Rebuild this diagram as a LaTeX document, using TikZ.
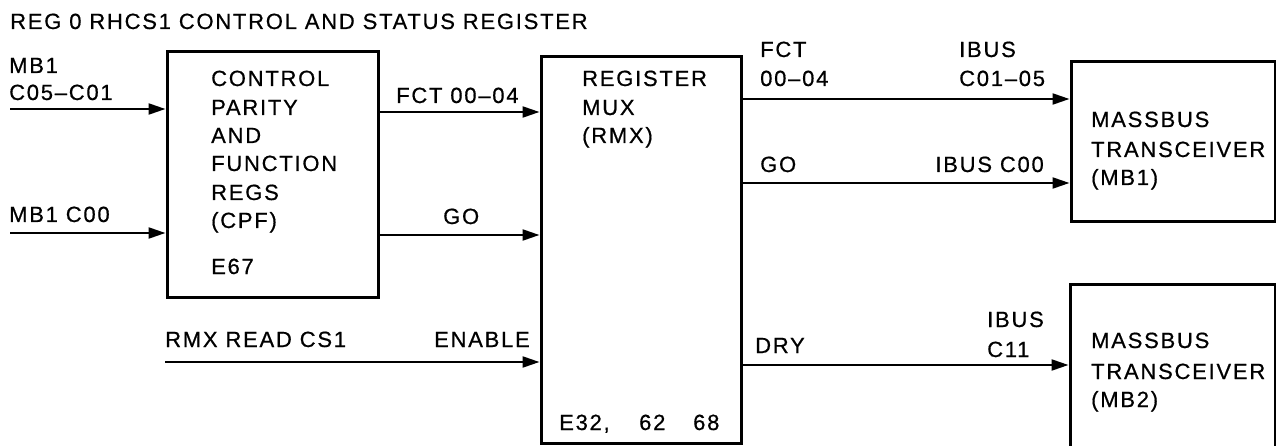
\documentclass[tikz,border=0pt]{standalone}
\usepackage{fontspec}
\setmainfont[LetterSpace=8,FakeBold=0.6]{Liberation Sans}
\usetikzlibrary{arrows.meta}
\begin{document}
\begin{tikzpicture}[x=1pt,y=-1pt,
  lbl/.style={anchor=base west, inner sep=0pt, font=\fontsize{22}{28}\selectfont},
  lblr/.style={anchor=base east, inner sep=0pt, font=\fontsize{22}{28}\selectfont},
  blk/.style={draw, line width=3pt, rectangle, inner sep=0pt},
  sig/.style={line width=2.2pt, -{Triangle[length=17pt,width=11pt]}}]
\useasboundingbox (0,0) rectangle (1276,446);
\clip (0,0) rectangle (1276,446);

% title
\node[lbl] (title) at (10,29) {REG 0 RHCS1 CONTROL AND STATUS REGISTER};

% blocks
\node[blk, minimum width=211pt, minimum height=245pt] (cpf) at (272.5,174.5) {};
\node[blk, minimum width=200pt, minimum height=386pt] (rmx) at (641,250) {};
\node[blk, minimum width=204pt, minimum height=160pt] (mb1) at (1173,142) {};
\node[blk, minimum width=205pt, minimum height=186pt] (mb2) at (1172.5,377) {};

% block texts
\node[lbl] (cpf1) at (211,86) {CONTROL};
\node[lbl] (cpf2) at (211,115) {PARITY};
\node[lbl] (cpf3) at (211,143) {AND};
\node[lbl] (cpf4) at (211,171) {FUNCTION};
\node[lbl] (cpf5) at (211,200) {REGS};
\node[lbl] (cpf6) at (211,228) {(CPF)};
\node[lbl] (cpf7) at (211,274) {E67};

\node[lbl] (rmx1) at (582,86) {REGISTER};
\node[lbl] (rmx2) at (582,115) {MUX};
\node[lbl] (rmx3) at (582,143) {(RMX)};
\node[lbl] (rmx4) at (559,430) {E32,};
\node[lbl] (rmx5) at (639,430) {62};
\node[lbl] (rmx6) at (693,430) {68};

\node[lbl] (mba1) at (1091,127) {MASSBUS};
\node[lbl] (mba2) at (1091,157) {TRANSCEIVER};
\node[lbl] (mba3) at (1091,185) {(MB1)};
\node[lbl] (mbb1) at (1091,348) {MASSBUS};
\node[lbl] (mbb2) at (1091,379) {TRANSCEIVER};
\node[lbl] (mbb3) at (1091,407) {(MB2)};

% input labels
\node[lbl] (lin1a) at (9,73) {MB1};
\node[lbl] (lin1b) at (9,100) {C05--C01};
\node[lbl] (lin2) at (9,222) {MB1 C00};
\node[lbl] (lrd) at (165,347) {RMX READ CS1};
\node[lblr] (len) at (530,347) {ENABLE};

% middle labels
\node[lbl] (lfct) at (396,103) {FCT 00--04};
\node[lbl] (lgo) at (443,224) {GO};

% right labels
\node[lbl] (lfct2a) at (760,57) {FCT};
\node[lbl] (lfct2b) at (760,86) {00--04};
\node[lbl] (libus1a) at (959,57) {IBUS};
\node[lbl] (libus1b) at (959,86) {C01--05};
\node[lbl] (lgo2) at (760,172) {GO};
\node[lblr] (libus0) at (1044,172) {IBUS C00};
\node[lbl] (ldry) at (755,353) {DRY};
\node[lbl] (libus11a) at (987,327) {IBUS};
\node[lbl] (libus11b) at (987,357) {C11};

% connectors
\coordinate (in1) at (10,109);
\coordinate (in2) at (10,233);
\coordinate (rd) at (165,362);
\draw[sig] (in1) -- (in1 -| cpf.west);
\draw[sig] (in2) -- (in2 -| cpf.west);
\draw[sig] (rd) -- (rd -| rmx.west);
\draw[sig] (cpf.east |- 0,112) -- (rmx.west |- 0,112);
\draw[sig] (cpf.east |- 0,235) -- (rmx.west |- 0,235);
\draw[sig] (rmx.east |- 0,99) -- (mb1.west |- 0,99);
\draw[sig] (rmx.east |- 0,183) -- (mb1.west |- 0,183);
\draw[sig] (rmx.east |- 0,365) -- (mb2.west |- 0,365);
\end{tikzpicture}
\end{document}
